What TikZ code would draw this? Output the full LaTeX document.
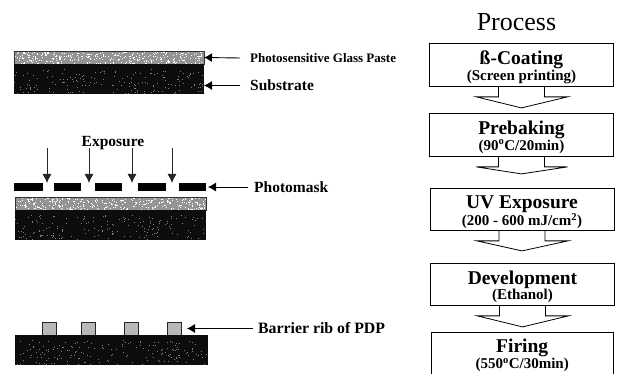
\documentclass[tikz,border=0pt]{standalone}
\usepackage{fontspec}
\setmainfont{Liberation Serif}
\usetikzlibrary{calc,arrows.meta}
\pgfmathsetseed{42}
\tikzset{
  x=1pt,y=-1pt,
  layer/.style={anchor=north west,inner sep=0pt,outer sep=0pt,minimum width=#1},
  paste/.style={layer=#1,minimum height=13pt,fill=black!42,draw=black!80,line width=.6pt,
    path picture={\foreach \i in {1,...,320}{\fill[white] ($(path picture bounding box.north west)+({rnd*#1},{rnd*13})$) rectangle ++(1.1,1.1);}}},
  substrate/.style={layer=#1,minimum height=30pt,fill=black!95,
    path picture={\foreach \i in {1,...,170}{\fill[black!50] ($(path picture bounding box.north west)+({rnd*#1},{5+rnd*24})$) rectangle ++(.9,.9);}}},
  maskbar/.style={layer=#1,minimum height=8pt,fill=black},
  rib/.style={layer=14pt,minimum height=13pt,fill=black!28,draw=black!85,line width=.9pt},
  callout/.style={-{Latex[length=8pt,width=9pt]},line width=.9pt},
  exparrow/.style={-{Latex[length=9pt,width=9pt]},line width=.8pt,black!85},
  lbl/.style={anchor=west,inner sep=0pt,font=\bfseries\fontsize{#1}{#1}\selectfont},
  stepbox/.style={anchor=north west,draw=black,line width=.9pt,minimum width=184pt,minimum height=#1,inner sep=0pt,align=center},
  bigarrow/.style={draw=black,line width=.8pt}
}
\newcommand{\hdt}[1]{{\bfseries\fontsize{19.5}{17}\selectfont\rule{0pt}{18pt}#1}}
\newcommand{\sbt}[1]{{\bfseries\fontsize{15}{13}\selectfont #1}}
\newcommand{\blockarrow}[3]{%
  \draw[bigarrow] ($(#1.south)+(-23,0)$) -- ++(0,10) -- ++(-22,0) -- ($(#1.south)+(0,#3)$) -- ($(#1.south)+(46,10)$) -- ++(-23,0) -- ++(0,-10);}
\begin{document}
\begin{tikzpicture}
\useasboundingbox (0,0) rectangle (622,374);
% top stack
\node[paste=190pt] (p1) at (14,51) {};
\node[substrate=190] (s1) at (14,64) {};
\node[lbl=13] (tp) at (250,58) {Photosensitive Glass Paste};
\node[lbl=15.5] (ts) at (250,85.5) {Substrate};
\draw[callout] (tp.west) ++(-10,0) -- (p1.east);
\draw[callout] (ts.west) ++(-10,0) -- (s1.east |- ts.west);
% middle stack
\node[lbl=15.5,anchor=center] (te) at (113,143) {Exposure};
\node[maskbar=29pt] (m1) at (14,183) {};
\node[maskbar=27pt] (m2) at (54,183) {};
\node[maskbar=27pt] (m3) at (95,183) {};
\node[maskbar=28pt] (m4) at (138,183) {};
\node[maskbar=27pt] (m5) at (179,183) {};
\coordinate (e1) at (47,148);
\coordinate (e2) at (89,148);
\coordinate (e3) at (132,148);
\coordinate (e4) at (172,148);
\draw[exparrow] (e1) -- (47,183);
\draw[exparrow] (e2) -- (89,183);
\draw[exparrow] (e3) -- (132,183);
\draw[exparrow] (e4) -- (172,183);
\node[paste=191pt] (p2) at (15,197) {};
\node[substrate=191] (s2) at (15,210) {};
\node[lbl=15.5] (tm) at (254,187) {Photomask};
\draw[callout] (tm.west) ++(-6,0) -- ($(m5.east)+(2,0)$);
% bottom stack
\node[rib] (r1) at (42,322) {};
\node[rib] (r2) at (81,322) {};
\node[rib] (r3) at (124,322) {};
\node[rib] (r4) at (167,322) {};
\node[substrate=193] (s3) at (15,335) {};
\node[lbl=15.8] (tb) at (258,328.5) {Barrier rib of PDP};
\draw[callout] (tb.west) ++(-5,0) -- ($(r4.east)+(6,0)$);
% process
\node[font=\fontsize{26}{26}\selectfont] (title) at (516.5,22) {Process};
\node[stepbox=43pt] (b1) at (429,43) {\hdt{ß-Coating}\\\sbt{(Screen printing)}};
\node[stepbox=43pt] (b2) at (429,113) {\hdt{Prebaking}\\\sbt{(90\textsuperscript{o}C/20min)}};
\node[stepbox=42pt] (b3) at (429.5,188) {\hdt{UV Exposure}\\\sbt{(200 - 600 mJ/cm\textsuperscript{2})}};
\node[stepbox=42pt] (b4) at (430,263) {\hdt{Development}\\\sbt{(Ethanol)}};
\node[anchor=north west,inner sep=0pt,minimum width=182pt,minimum height=42pt,align=center] (b5) at (431,332) {\hdt{Firing}\\\sbt{(550\textsuperscript{o}C/30min)}};
\draw[line width=.9pt] (b5.south west) -- (b5.north west) -- (b5.north east) -- (b5.south east);
\blockarrow{b1}{b2}{21}
\blockarrow{b2}{b3}{17}
\blockarrow{b3}{b4}{20}
\blockarrow{b4}{b5}{21}
\end{tikzpicture}
\end{document}
